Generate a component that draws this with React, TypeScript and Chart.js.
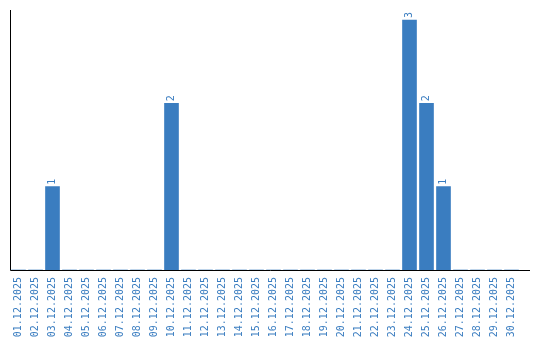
import React, { useEffect, useRef } from "react";
import { Chart, registerables } from "chart.js";

Chart.register(...registerables);

const categories: string[] = [
  "01.12.2025", "02.12.2025", "03.12.2025", "04.12.2025", "05.12.2025",
  "06.12.2025", "07.12.2025", "08.12.2025", "09.12.2025", "10.12.2025",
  "11.12.2025", "12.12.2025", "13.12.2025", "14.12.2025", "15.12.2025",
  "16.12.2025", "17.12.2025", "18.12.2025", "19.12.2025", "20.12.2025",
  "21.12.2025", "22.12.2025", "23.12.2025", "24.12.2025", "25.12.2025",
  "26.12.2025", "27.12.2025", "28.12.2025", "29.12.2025", "30.12.2025",
];

const counts: number[] = [
  0, 0, 1, 0, 0, 0, 0, 0, 0, 2,
  0, 0, 0, 0, 0, 0, 0, 0, 0, 0,
  0, 0, 0, 3, 2, 1, 0, 0, 0, 0,
];

const BLUE = "#3a7dc0";
const FONT = "'DejaVu Sans Mono', 'Liberation Mono', monospace";

const axisLinesPlugin = {
  id: "axisLines",
  afterDraw(chart: any) {
    const { ctx, chartArea } = chart;
    ctx.save();
    ctx.strokeStyle = "#000";
    ctx.lineWidth = 1;
    ctx.beginPath();
    ctx.moveTo(chartArea.left + 0.5, chartArea.top);
    ctx.lineTo(chartArea.left + 0.5, chartArea.bottom + 0.5);
    ctx.lineTo(chartArea.right + 10, chartArea.bottom + 0.5);
    ctx.stroke();
    ctx.restore();
  },
};

const valueLabelsPlugin = {
  id: "valueLabels",
  afterDatasetsDraw(chart: any) {
    const { ctx } = chart;
    const meta = chart.getDatasetMeta(0);
    const data = chart.data.datasets[0].data as number[];
    ctx.save();
    ctx.fillStyle = BLUE;
    ctx.font = `10px ${FONT}`;
    ctx.textAlign = "left";
    ctx.textBaseline = "middle";
    meta.data.forEach((bar: any, i: number) => {
      const v = data[i];
      if (!v) return;
      ctx.save();
      ctx.translate(bar.x, bar.y - 2);
      ctx.rotate(-Math.PI / 2);
      ctx.fillText(String(v), 0, 0);
      ctx.restore();
    });
    ctx.restore();
  },
};

export default function App() {
  const ref = useRef<HTMLCanvasElement | null>(null);

  useEffect(() => {
    document.body.style.margin = "0";
    const canvas = ref.current;
    if (!canvas) return;
    const chart = new Chart(canvas, {
      type: "bar",
      data: {
        labels: categories,
        datasets: [
          {
            data: counts,
            backgroundColor: BLUE,
            borderWidth: 0,
            barThickness: 14,
          },
        ],
      },
      options: {
        animation: false,
        responsive: false,
        devicePixelRatio: 1,
        layout: { padding: { left: 10, top: 10, right: 20, bottom: 0 } },
        plugins: {
          legend: { display: false },
          tooltip: { enabled: false },
        },
        scales: {
          x: {
            grid: { display: false, drawTicks: false },
            border: { display: false },
            afterFit(scale: any) {
              scale.height = 70;
            },
            ticks: {
              color: BLUE,
              font: { family: FONT, size: 10 },
              minRotation: 90,
              maxRotation: 90,
              autoSkip: false,
              padding: 7,
            },
          },
          y: {
            display: false,
            min: 0,
            max: 3.12,
          },
        },
      },
      plugins: [axisLinesPlugin, valueLabelsPlugin],
    });
    return () => chart.destroy();
  }, []);

  return (
    <div style={{ width: 540, height: 340 }}>
      <canvas ref={ref} width={540} height={340} />
    </div>
  );
}
